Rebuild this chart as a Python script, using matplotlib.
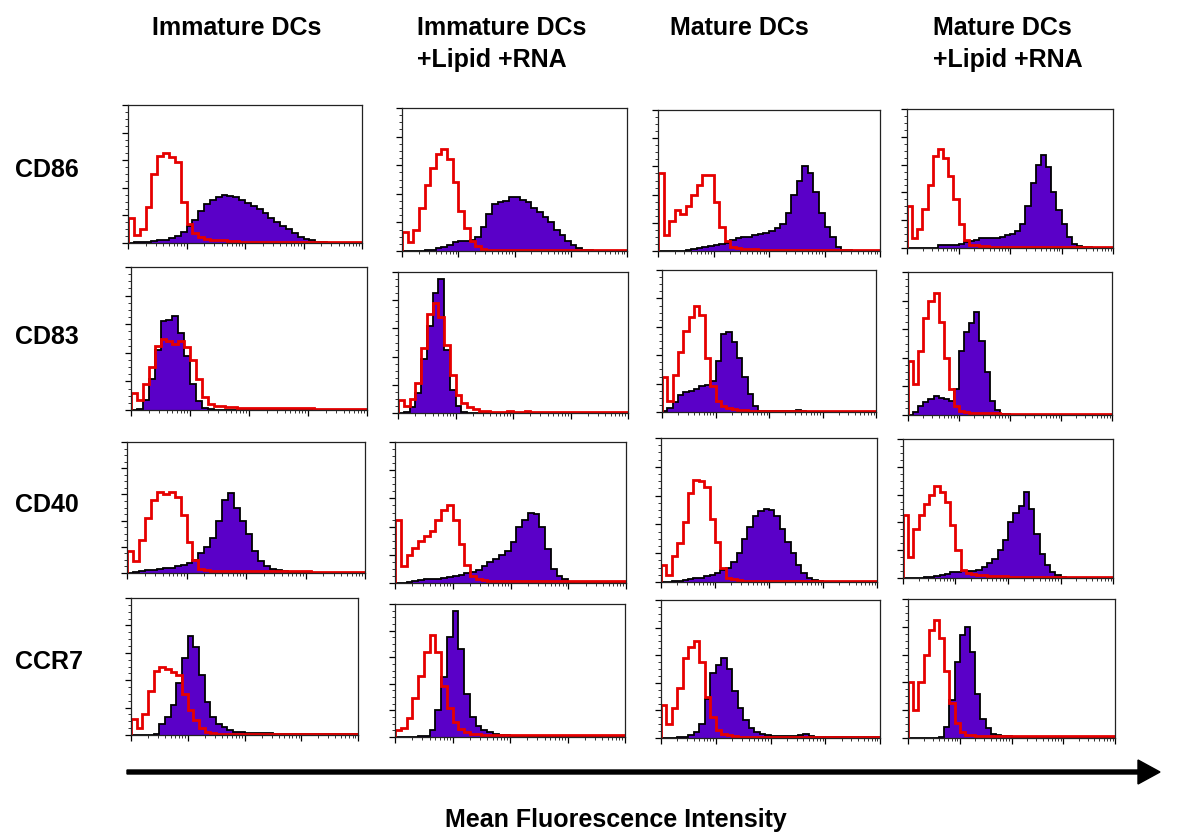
import matplotlib
matplotlib.use('Agg')
import matplotlib.pyplot as plt
import numpy as np
from matplotlib.ticker import FixedLocator, LogLocator, NullFormatter

plt.rcParams['font.family'] = ['Liberation Sans', 'DejaVu Sans']

col_titles = ['Immature DCs', 'Immature DCs\n+Lipid +RNA', 'Mature DCs', 'Mature DCs\n+Lipid +RNA']
row_labels = ['CD86', 'CD83', 'CD40', 'CCR7']
x_label = 'Mean Fluorescence Intensity'

# 40 channels over 4 decades, counts as fraction of panel height
# red = isotype control, purple = stained
cd86_imm_iso = [0.18, 0.06, 0.10, 0.26, 0.50, 0.63, 0.65, 0.62, 0.59, 0.30,
                0.14, 0.07, 0.04, 0.03, 0.025, 0.02, 0.02, 0.015, 0.015, 0.01,
                0.01, 0.01, 0.01, 0.01, 0.01, 0.01, 0.01, 0.01, 0.01, 0.01,
                0.008, 0.008, 0.006, 0.006, 0.005, 0.005, 0.005, 0.005, 0.005, 0.005]
cd86_imm_ab = [0, 0.005, 0.01, 0.01, 0.015, 0.02, 0.025, 0.035, 0.05, 0.08,
               0.12, 0.17, 0.23, 0.28, 0.31, 0.33, 0.35, 0.34, 0.33, 0.31,
               0.29, 0.27, 0.25, 0.22, 0.18, 0.15, 0.12, 0.10, 0.07, 0.04,
               0.03, 0.025, 0.01, 0.005, 0, 0, 0, 0, 0, 0]
cd86_ilr_iso = [0.13, 0.06, 0.15, 0.30, 0.46, 0.58, 0.68, 0.71, 0.64, 0.48,
                0.28, 0.16, 0.07, 0.035, 0.015, 0.01, 0.008, 0.008, 0.008, 0.008,
                0.006, 0.006, 0.006, 0.006, 0.006, 0.005, 0.005, 0.005, 0.005, 0.005,
                0.005, 0.005, 0.005, 0.004, 0.004, 0.004, 0.004, 0.004, 0.004, 0.004]
cd86_ilr_ab = [0, 0, 0, 0, 0.005, 0.01, 0.02, 0.03, 0.04, 0.06,
               0.07, 0.07, 0.08, 0.10, 0.17, 0.26, 0.33, 0.34, 0.35, 0.38,
               0.38, 0.36, 0.34, 0.30, 0.27, 0.24, 0.20, 0.15, 0.11, 0.07,
               0.04, 0.02, 0.01, 0.005, 0, 0, 0, 0, 0, 0]
cd86_mat_iso = [0.55, 0.11, 0.21, 0.29, 0.26, 0.32, 0.40, 0.47, 0.54, 0.54,
                0.35, 0.17, 0.07, 0.03, 0.02, 0.015, 0.012, 0.012, 0.01, 0.01,
                0.01, 0.01, 0.01, 0.008, 0.008, 0.008, 0.008, 0.008, 0.006, 0.006,
                0.006, 0.006, 0.005, 0.005, 0.005, 0.005, 0.005, 0.005, 0.005, 0.005]
cd86_mat_ab = [0, 0, 0, 0, 0, 0.01, 0.015, 0.02, 0.03, 0.035,
               0.04, 0.05, 0.06, 0.08, 0.09, 0.10, 0.10, 0.11, 0.12, 0.13,
               0.14, 0.16, 0.19, 0.27, 0.40, 0.50, 0.60, 0.55, 0.42, 0.27,
               0.17, 0.10, 0.03, 0.01, 0.005, 0, 0, 0, 0, 0]
cd86_mlr_iso = [0.30, 0.07, 0.14, 0.28, 0.45, 0.66, 0.71, 0.65, 0.52, 0.35,
                0.17, 0.06, 0.025, 0.02, 0.015, 0.012, 0.01, 0.01, 0.01, 0.01,
                0.01, 0.01, 0.01, 0.008, 0.008, 0.006, 0.006, 0.006, 0.005, 0.005,
                0.005, 0.005, 0.005, 0.005, 0.005, 0.005, 0.005, 0.005, 0.005, 0.005]
cd86_mlr_ab = [0, 0, 0, 0, 0, 0, 0.02, 0.02, 0.02, 0.025,
               0.03, 0.04, 0.05, 0.06, 0.07, 0.07, 0.07, 0.07, 0.08, 0.09,
               0.10, 0.12, 0.17, 0.30, 0.47, 0.60, 0.67, 0.58, 0.40, 0.27,
               0.17, 0.08, 0.03, 0.015, 0.01, 0.005, 0, 0, 0, 0]

cd83_imm_iso = [0.12, 0.07, 0.18, 0.30, 0.45, 0.50, 0.48, 0.46, 0.48, 0.44,
                0.35, 0.22, 0.09, 0.04, 0.03, 0.025, 0.02, 0.02, 0.015, 0.015,
                0.012, 0.012, 0.012, 0.012, 0.015, 0.012, 0.012, 0.012, 0.015, 0.012,
                0.012, 0.01, 0.01, 0.01, 0.01, 0.01, 0.01, 0.01, 0.01, 0.01]
cd83_imm_ab = [0, 0.01, 0.07, 0.22, 0.42, 0.62, 0.63, 0.66, 0.54, 0.38,
               0.18, 0.06, 0.015, 0.005, 0, 0, 0, 0, 0, 0,
               0, 0, 0, 0, 0, 0, 0, 0, 0, 0,
               0, 0, 0, 0, 0, 0, 0, 0, 0, 0]
cd83_ilr_iso = [0.09, 0.05, 0.10, 0.21, 0.46, 0.70, 0.78, 0.68, 0.48, 0.27,
                0.13, 0.07, 0.04, 0.025, 0.015, 0.012, 0.01, 0.01, 0.01, 0.012,
                0.01, 0.01, 0.012, 0.01, 0.01, 0.01, 0.01, 0.01, 0.01, 0.01,
                0.01, 0.01, 0.01, 0.01, 0.01, 0.01, 0.01, 0.01, 0.01, 0.01]
cd83_ilr_ab = [0, 0.01, 0.04, 0.14, 0.38, 0.62, 0.85, 0.95, 0.45, 0.16,
               0.05, 0.01, 0, 0, 0, 0, 0, 0, 0, 0,
               0, 0, 0, 0, 0, 0, 0, 0, 0, 0,
               0, 0, 0, 0, 0, 0, 0, 0, 0, 0]
cd83_mat_iso = [0.25, 0.08, 0.26, 0.42, 0.57, 0.67, 0.75, 0.68, 0.38, 0.18,
                0.08, 0.04, 0.025, 0.02, 0.015, 0.012, 0.01, 0.01, 0.01, 0.01,
                0.01, 0.01, 0.01, 0.01, 0.01, 0.01, 0.01, 0.01, 0.01, 0.01,
                0.01, 0.01, 0.01, 0.01, 0.01, 0.01, 0.01, 0.01, 0.01, 0.01]
cd83_mat_ab = [0.01, 0.03, 0.07, 0.12, 0.14, 0.15, 0.16, 0.18, 0.19, 0.22,
               0.36, 0.55, 0.56, 0.49, 0.38, 0.25, 0.13, 0.04, 0.01, 0.01,
               0.005, 0.005, 0.005, 0.005, 0.005, 0.015, 0.005, 0, 0, 0,
               0, 0, 0, 0, 0, 0, 0, 0, 0, 0]
cd83_mlr_iso = [0.38, 0.22, 0.45, 0.68, 0.80, 0.85, 0.65, 0.40, 0.18, 0.06,
                0.025, 0.02, 0.015, 0.015, 0.015, 0.015, 0.015, 0.015, 0.006, 0.006,
                0.006, 0.006, 0.006, 0.006, 0.006, 0.006, 0.006, 0.006, 0.006, 0.006,
                0.006, 0.006, 0.006, 0.006, 0.006, 0.006, 0.006, 0.006, 0.006, 0.006]
cd83_mlr_ab = [0, 0.02, 0.06, 0.09, 0.11, 0.13, 0.12, 0.11, 0.10, 0.18,
               0.45, 0.58, 0.64, 0.72, 0.52, 0.30, 0.10, 0.035, 0.01, 0.005,
               0, 0, 0, 0, 0, 0, 0, 0, 0, 0,
               0, 0, 0, 0, 0, 0, 0, 0, 0, 0]

cd40_imm_iso = [0.17, 0.09, 0.25, 0.42, 0.56, 0.62, 0.60, 0.62, 0.58, 0.44,
                0.24, 0.10, 0.03, 0.02, 0.015, 0.015, 0.015, 0.015, 0.015, 0.015,
                0.015, 0.015, 0.015, 0.015, 0.015, 0.015, 0.015, 0.015, 0.015, 0.015,
                0.015, 0.01, 0.01, 0.01, 0.01, 0.01, 0.01, 0.01, 0.01, 0.01]
cd40_imm_ab = [0, 0.005, 0.015, 0.02, 0.025, 0.03, 0.035, 0.04, 0.05, 0.06,
               0.08, 0.10, 0.15, 0.20, 0.27, 0.40, 0.56, 0.61, 0.50, 0.40,
               0.30, 0.17, 0.09, 0.05, 0.03, 0.02, 0.015, 0.01, 0.005, 0,
               0, 0, 0, 0, 0, 0, 0, 0, 0, 0]
cd40_ilr_iso = [0.45, 0.12, 0.20, 0.25, 0.30, 0.33, 0.37, 0.45, 0.52, 0.55,
                0.45, 0.28, 0.13, 0.05, 0.03, 0.02, 0.012, 0.012, 0.012, 0.012,
                0.012, 0.012, 0.012, 0.012, 0.012, 0.012, 0.012, 0.012, 0.012, 0.012,
                0.012, 0.012, 0.012, 0.012, 0.012, 0.012, 0.012, 0.012, 0.012, 0.012]
cd40_ilr_ab = [0, 0, 0.01, 0.015, 0.02, 0.025, 0.03, 0.03, 0.035, 0.04,
               0.05, 0.06, 0.07, 0.08, 0.095, 0.12, 0.15, 0.17, 0.20, 0.23,
               0.29, 0.40, 0.45, 0.50, 0.49, 0.40, 0.24, 0.10, 0.05, 0.03,
               0.01, 0, 0, 0, 0, 0, 0, 0, 0, 0]
cd40_mat_iso = [0.12, 0.05, 0.18, 0.27, 0.42, 0.62, 0.71, 0.70, 0.66, 0.44,
                0.28, 0.10, 0.03, 0.02, 0.012, 0.01, 0.01, 0.01, 0.01, 0.01,
                0.01, 0.01, 0.01, 0.01, 0.01, 0.01, 0.01, 0.01, 0.01, 0.01,
                0.01, 0.01, 0.01, 0.01, 0.01, 0.01, 0.01, 0.01, 0.01, 0.01]
cd40_mat_ab = [0, 0, 0.005, 0.01, 0.015, 0.02, 0.025, 0.03, 0.04, 0.05,
               0.06, 0.08, 0.10, 0.14, 0.20, 0.30, 0.38, 0.46, 0.49, 0.51,
               0.50, 0.46, 0.37, 0.28, 0.20, 0.12, 0.06, 0.03, 0.015, 0.005,
               0, 0, 0, 0, 0, 0, 0, 0, 0, 0]
cd40_mlr_iso = [0.45, 0.15, 0.35, 0.45, 0.53, 0.60, 0.66, 0.62, 0.55, 0.38,
                0.20, 0.06, 0.035, 0.03, 0.025, 0.02, 0.015, 0.015, 0.015, 0.015,
                0.01, 0.01, 0.01, 0.01, 0.01, 0.01, 0.01, 0.01, 0.01, 0.01,
                0.01, 0.01, 0.01, 0.01, 0.01, 0.01, 0.01, 0.01, 0.01, 0.01]
cd40_mlr_ab = [0, 0, 0, 0, 0.005, 0.01, 0.015, 0.02, 0.03, 0.04,
               0.045, 0.048, 0.048, 0.05, 0.06, 0.08, 0.11, 0.14, 0.20, 0.27,
               0.40, 0.47, 0.52, 0.62, 0.50, 0.32, 0.17, 0.09, 0.045, 0.02,
               0.01, 0, 0, 0, 0, 0, 0, 0, 0, 0]

ccr7_imm_iso = [0.12, 0.05, 0.15, 0.32, 0.47, 0.50, 0.48, 0.46, 0.44, 0.30,
                0.18, 0.11, 0.05, 0.025, 0.012, 0.01, 0.01, 0.01, 0.01, 0.01,
                0.01, 0.01, 0.01, 0.01, 0.01, 0.01, 0.01, 0.01, 0.01, 0.01,
                0.01, 0.01, 0.01, 0.01, 0.01, 0.01, 0.01, 0.01, 0.01, 0.01]
ccr7_imm_ab = [0, 0, 0, 0, 0.01, 0.08, 0.13, 0.22, 0.38, 0.56,
               0.72, 0.64, 0.44, 0.24, 0.13, 0.08, 0.06, 0.04, 0.025, 0.02,
               0.015, 0.015, 0.015, 0.012, 0.012, 0.01, 0.01, 0.01, 0.01, 0.01,
               0.01, 0.01, 0.01, 0.01, 0.01, 0.01, 0.008, 0.008, 0.008, 0.008]
ccr7_ilr_iso = [0.05, 0.07, 0.14, 0.29, 0.46, 0.64, 0.77, 0.64, 0.38, 0.22,
                0.11, 0.06, 0.04, 0.025, 0.02, 0.012, 0.012, 0.012, 0.012, 0.012,
                0.012, 0.012, 0.012, 0.012, 0.012, 0.012, 0.012, 0.012, 0.012, 0.012,
                0.012, 0.012, 0.012, 0.012, 0.012, 0.012, 0.012, 0.012, 0.012, 0.012]
ccr7_ilr_ab = [0, 0, 0, 0, 0.005, 0.01, 0.05, 0.20, 0.45, 0.75,
               0.95, 0.66, 0.32, 0.15, 0.08, 0.05, 0.035, 0.025, 0.015, 0.012,
               0.01, 0.01, 0.01, 0.01, 0.01, 0.01, 0.01, 0.01, 0.01, 0.01,
               0.01, 0.01, 0.01, 0.01, 0.01, 0.01, 0.01, 0.01, 0.01, 0.01]
ccr7_mat_iso = [0.24, 0.10, 0.22, 0.36, 0.58, 0.66, 0.70, 0.55, 0.30, 0.15,
                0.06, 0.03, 0.02, 0.015, 0.01, 0.01, 0.01, 0.01, 0.01, 0.01,
                0.01, 0.01, 0.01, 0.01, 0.01, 0.01, 0.01, 0.01, 0.01, 0.01,
                0.01, 0.01, 0.01, 0.01, 0.01, 0.01, 0.01, 0.01, 0.01, 0.01]
ccr7_mat_ab = [0, 0, 0, 0.005, 0.01, 0.02, 0.04, 0.10, 0.28, 0.47,
               0.53, 0.58, 0.50, 0.34, 0.22, 0.13, 0.07, 0.04, 0.03, 0.024,
               0.015, 0.015, 0.015, 0.015, 0.015, 0.02, 0.03, 0.015, 0.01, 0.01,
               0.01, 0.01, 0.008, 0.005, 0.005, 0.005, 0.005, 0.005, 0.005, 0.005]
ccr7_mlr_iso = [0.40, 0.20, 0.40, 0.60, 0.78, 0.85, 0.72, 0.48, 0.25, 0.11,
                0.04, 0.025, 0.02, 0.012, 0.012, 0.012, 0.012, 0.012, 0.012, 0.012,
                0.012, 0.012, 0.012, 0.012, 0.012, 0.012, 0.012, 0.012, 0.012, 0.012,
                0.012, 0.012, 0.012, 0.012, 0.012, 0.012, 0.012, 0.012, 0.012, 0.012]
ccr7_mlr_ab = [0, 0, 0, 0, 0, 0, 0.005, 0.08, 0.27, 0.55,
               0.74, 0.80, 0.62, 0.32, 0.14, 0.07, 0.03, 0.02, 0.015, 0.012,
               0.01, 0.01, 0.01, 0.01, 0.01, 0.01, 0.01, 0.01, 0.01, 0.01,
               0.01, 0.01, 0.01, 0.01, 0.01, 0.01, 0.01, 0.01, 0.01, 0.01]

iso = [[cd86_imm_iso, cd86_ilr_iso, cd86_mat_iso, cd86_mlr_iso],
       [cd83_imm_iso, cd83_ilr_iso, cd83_mat_iso, cd83_mlr_iso],
       [cd40_imm_iso, cd40_ilr_iso, cd40_mat_iso, cd40_mlr_iso],
       [ccr7_imm_iso, ccr7_ilr_iso, ccr7_mat_iso, ccr7_mlr_iso]]
stained = [[cd86_imm_ab, cd86_ilr_ab, cd86_mat_ab, cd86_mlr_ab],
           [cd83_imm_ab, cd83_ilr_ab, cd83_mat_ab, cd83_mlr_ab],
           [cd40_imm_ab, cd40_ilr_ab, cd40_mat_ab, cd40_mlr_ab],
           [ccr7_imm_ab, ccr7_ilr_ab, ccr7_mat_ab, ccr7_mlr_ab]]

# panel boxes in pixels: left, top, right, bottom
boxes = [[(128, 105, 362, 243), (402, 108, 627, 251), (658, 110, 880, 251), (907, 109, 1113, 248)],
         [(131, 267, 367, 410), (398, 272, 628, 413), (662, 270, 876, 412), (908, 272, 1112, 415)],
         [(127, 442, 365, 573), (395, 442, 626, 583), (661, 438, 877, 582), (903, 439, 1113, 578)],
         [(131, 598, 358, 735), (395, 604, 625, 737), (661, 600, 880, 738), (908, 599, 1115, 738)]]

W, H = 1200, 840
PURPLE = '#5a00c8'
RED = '#e60000'

fig = plt.figure(figsize=(W / 100, H / 100), dpi=100)
fig.patch.set_facecolor('white')

edges = np.logspace(0, 4, 41)

for r in range(4):
    for c in range(4):
        left, top, right, bottom = boxes[r][c]
        ax = fig.add_axes([left / W, 1 - bottom / H, (right - left) / W, (bottom - top) / H])
        ab = np.array(stained[r][c])
        ctrl = np.array(iso[r][c])
        ax.stairs(ab, edges, fill=True, color=PURPLE, lw=0)
        ax.stairs(ab, edges, color='black', lw=1.3)
        ax.stairs(ctrl, edges, color=RED, lw=2.0)
        ax.set_xscale('log')
        ax.set_xlim(1, 1e4)
        ax.set_ylim(0, 1)
        ax.xaxis.set_major_locator(LogLocator(base=10, numticks=6))
        ax.xaxis.set_minor_locator(LogLocator(base=10, subs=np.arange(2, 10), numticks=12))
        ax.xaxis.set_major_formatter(NullFormatter())
        ax.xaxis.set_minor_formatter(NullFormatter())
        ax.yaxis.set_major_locator(FixedLocator(np.linspace(0, 1, 6)))
        ax.yaxis.set_minor_locator(FixedLocator(np.linspace(0, 1, 21)))
        ax.set_yticklabels([])
        ax.tick_params(which='major', direction='out', length=4, width=0.9, color='black')
        ax.tick_params(which='minor', direction='out', length=2, width=0.7, color='#333333')
        for s in ax.spines.values():
            s.set_linewidth(0.9)
            s.set_color('#222222')

# overlay in pixel coordinates for labels and the arrow
ov = fig.add_axes([0, 0, 1, 1], zorder=-1)
ov.set_xlim(0, W)
ov.set_ylim(H, 0)
ov.axis('off')

title_x = [152, 417, 670, 933]
for x, t in zip(title_x, col_titles):
    ov.text(x, 16, t, ha='left', va='top', fontsize=18, fontweight='bold', linespacing=1.4)

row_y = [170, 337, 505, 662]
for y, t in zip(row_y, row_labels):
    ov.text(15, y, t, ha='left', va='center', fontsize=18, fontweight='bold')

ov.arrow(127, 772, 1011, 0, width=4, head_width=24, head_length=22,
         length_includes_head=False, color='black')
ov.text(616, 820, x_label, ha='center', va='center', fontsize=18, fontweight='bold')

fig.savefig('out.png', dpi=100, facecolor='white')
